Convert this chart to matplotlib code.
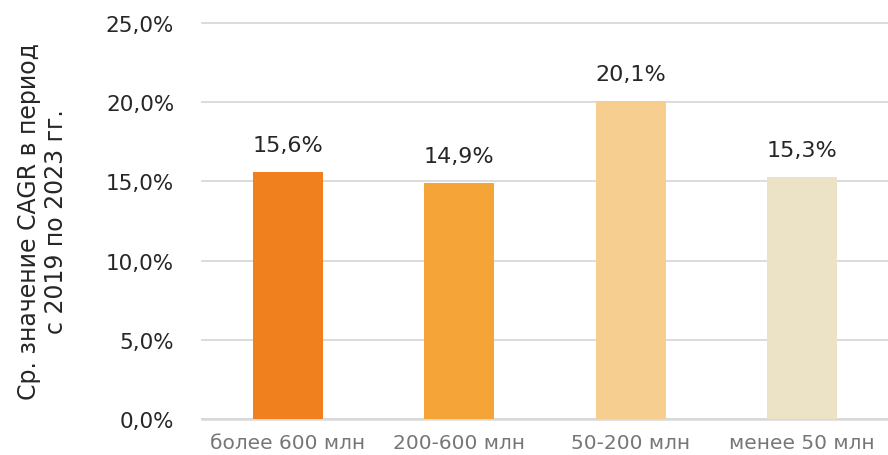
import matplotlib.pyplot as plt
from matplotlib.ticker import FuncFormatter

# data
categories = ['более 600 млн', '200-600 млн', '50-200 млн', 'менее 50 млн']
cagr = [0.156, 0.149, 0.201, 0.153]
colors = ['#F0801E', '#F5A537', '#F6CF90', '#ECE3C7']
ylabel = 'Ср. значение CAGR в период\nс 2019 по 2023 гг.'

plt.rcParams['font.family'] = ['DejaVu Sans']

fig = plt.figure(figsize=(8.88, 4.56), dpi=100)
ax = fig.add_axes([202/888, 1-420/456, 686/888, (420-24)/456])

x = range(len(categories))
ax.bar(x, cagr, width=0.41, color=colors, zorder=3)

def pct(v, pos=None):
    return f'{v*100:.1f}%'.replace('.', ',')

for i, v in enumerate(cagr):
    ax.text(i, v + 0.017, pct(v), ha='center', va='center', fontsize=16, color='#262626')

ax.set_ylim(0, 0.25)
ax.set_xlim(-0.5, len(categories) - 0.5)
ax.set_yticks([0, 0.05, 0.10, 0.15, 0.20, 0.25])
ax.yaxis.set_major_formatter(FuncFormatter(pct))
ax.set_xticks(list(x))
ax.set_xticklabels(categories)

ax.grid(axis='y', color='#D9D9D9', linewidth=1.3, zorder=0)
# keep the top gridline at full width
for gl in ax.get_ygridlines():
    gl.set_clip_on(False)
for s in ['top', 'right', 'left']:
    ax.spines[s].set_visible(False)
ax.spines['bottom'].set_color('#D9D9D9')
ax.spines['bottom'].set_linewidth(1.8)
ax.tick_params(axis='y', length=0, pad=20, labelsize=15.5, labelcolor='#262626')
ax.tick_params(axis='x', length=0, pad=10, labelsize=14.5, labelcolor='#767676')

ax.set_ylabel(ylabel, fontsize=17, color='#262626', linespacing=1.15)
ax.yaxis.set_label_coords(-0.195, 0.5)

fig.savefig('out.png', dpi=100)
